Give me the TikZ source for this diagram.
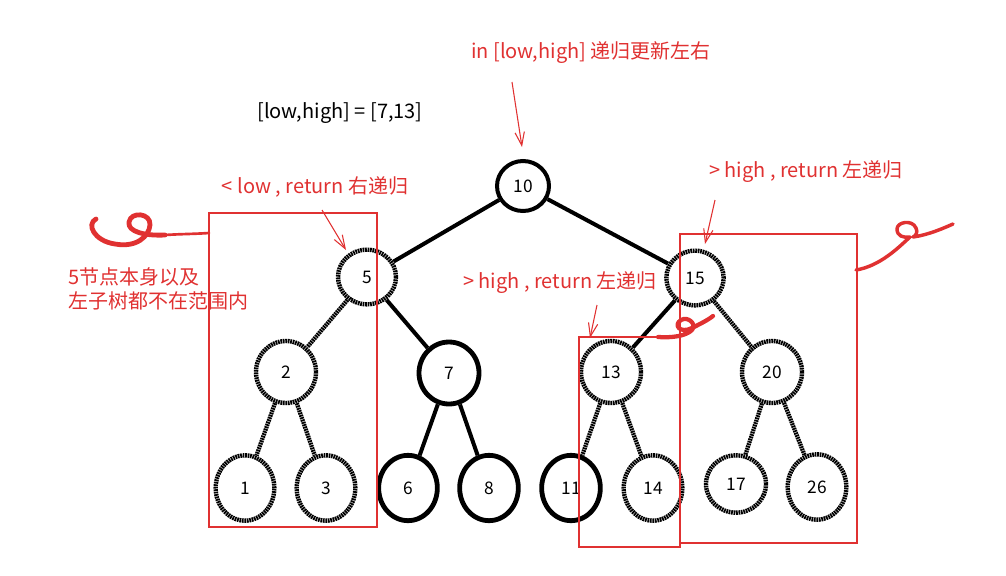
\documentclass[tikz,border=0pt]{standalone}
\usepackage{fontspec}
\setmainfont{Noto Sans CJK SC}
\usetikzlibrary{shapes.geometric,arrows.meta}
\definecolor{exred}{HTML}{E03131}
\begin{document}
\begin{tikzpicture}[x=0.75pt,y=-0.75pt,
  tn/.style={ellipse, draw=black, line width=3pt, inner sep=0pt, font=\fontsize{13}{15}\selectfont},
  sn/.style={tn, line width=3.6pt},
  hn/.style={tn, draw=black, line width=3.3pt, dash pattern=on 1.3pt off 0.55pt},
  edge/.style={line width=3pt, black},
  hedge/.style={line width=3.2pt, black, dash pattern=on 1.3pt off 0.55pt},
  redtxt/.style={text=exred, font=\fontsize{15}{19}\selectfont, inner sep=0pt},
  redbox/.style={draw=exred, line width=1pt},
  redarr/.style={draw=exred, line width=0.8pt, -{Straight Barb[length=10pt,width=7pt]}},
  squig/.style={draw=exred, line width=2.2pt, line cap=round, line join=round}
]
\useasboundingbox (0,0) rectangle (1006,575);

% nodes
\node[tn, minimum width=39pt, minimum height=37.5pt] (n10) at (523,186) {10};
\node[hn, minimum width=43.5pt, minimum height=41pt] (n5) at (367,277) {5};
\node[hn, minimum width=43pt, minimum height=41pt] (n15) at (695,278) {15};
\node[hn, minimum width=45pt, minimum height=46.5pt] (n2) at (286,372) {2};
\node[sn, minimum width=45pt, minimum height=46.5pt] (n7) at (449,373) {7};
\node[hn, minimum width=45pt, minimum height=46.5pt] (n13) at (611,372) {13};
\node[hn, minimum width=45pt, minimum height=46.5pt] (n20) at (772,372) {20};
\node[hn, minimum width=44pt, minimum height=49pt] (n1) at (245,488) {1};
\node[hn, minimum width=44pt, minimum height=49pt] (n3) at (326,488) {3};
\node[sn, minimum width=44pt, minimum height=49pt] (n6) at (408,488) {6};
\node[sn, minimum width=44pt, minimum height=49pt] (n8) at (489,488) {8};
\node[sn, minimum width=44pt, minimum height=49pt] (n11) at (571,488) {11};
\node[hn, minimum width=44pt, minimum height=49pt] (n14) at (653,488) {14};
\node[hn, minimum width=45pt, minimum height=43pt] (n17) at (736,484) {17};
\node[hn, minimum width=44pt, minimum height=49pt] (n26) at (817,487) {26};

% edges
\draw[edge] (n10) -- (n5);
\draw[edge] (n10) -- (n15);
\draw[hedge] (n5) -- (n2);
\draw[edge] (n5) -- (n7);
\draw[edge] (n15) -- (n13);
\draw[hedge] (n15) -- (n20);
\draw[hedge] (n2) -- (n1);
\draw[hedge] (n2) -- (n3);
\draw[edge] (n7) -- (n6);
\draw[edge] (n7) -- (n8);
\draw[hedge] (n13) -- (n11);
\draw[hedge] (n13) -- (n14);
\draw[hedge] (n20) -- (n17);
\draw[hedge] (n20) -- (n26);

% texts
\node[redtxt] (t1) at (591,53) {in [low,high] 递归更新左右};
\node[font=\fontsize{15}{19}\selectfont, inner sep=0pt] (t2) at (340,113) {[low,high] = [7,13]};
\node[redtxt] (t3) at (315,187) {< low , return 右递归};
\node[redtxt] (t4) at (806,172) {> high , return 左递归};
\node[redtxt] (t5) at (560,283) {> high , return 左递归};
\node[redtxt, anchor=west, align=left, font=\fontsize{15}{18}\selectfont] (t6) at (68,289) {5节点本身以及\\左子树都不在范围内};

% red boxes
\draw[redbox] (209,213) rectangle (377,527);
\draw[redbox] (579,337) rectangle (680,547);
\draw[redbox] (680,234) rectangle (857,543);

% arrows
\coordinate (a1s) at (512,82);  \coordinate (a1e) at (522,147);
\coordinate (a2s) at (322,210); \coordinate (a2e) at (346,250);
\coordinate (a3s) at (715,200); \coordinate (a3e) at (705,244);
\coordinate (a4s) at (597,305); \coordinate (a4e) at (590,338);
\draw[redarr] (a1s) -- (a1e);
\draw[redarr] (a2s) -- (a2e);
\draw[redarr] (a3s) -- (a3e);
\draw[redarr] (a4s) -- (a4e);

% squiggles
\draw[squig, line width=3.6pt] (96,219) .. controls (86,224) and (94,241) .. (115,244)
  .. controls (137,248) and (149,236) .. (150,225)
  .. controls (151,213) and (131,211) .. (129,222)
  .. controls (127,232) and (146,236) .. (165,235);
\draw[squig, line width=2pt] (165,235) .. controls (180,234) and (195,234) .. (209,233);
\draw[squig, line width=2.6pt] (856,270) .. controls (880,266) and (898,248) .. (910,237)
  .. controls (903,238) and (897,236) .. (897,229)
  .. controls (897,222) and (912,219) .. (916,228)
  .. controls (918,232) and (916,236) .. (913,237)
  .. controls (928,235) and (944,228) .. (953,224);
\draw[squig, line width=3.2pt] (658,337) .. controls (672,338) and (686,336) .. (692,330)
  .. controls (697,324) and (688,316) .. (681,320)
  .. controls (673,325) and (680,334) .. (692,328)
  .. controls (700,324) and (708,320) .. (713,316);
\end{tikzpicture}
\end{document}
